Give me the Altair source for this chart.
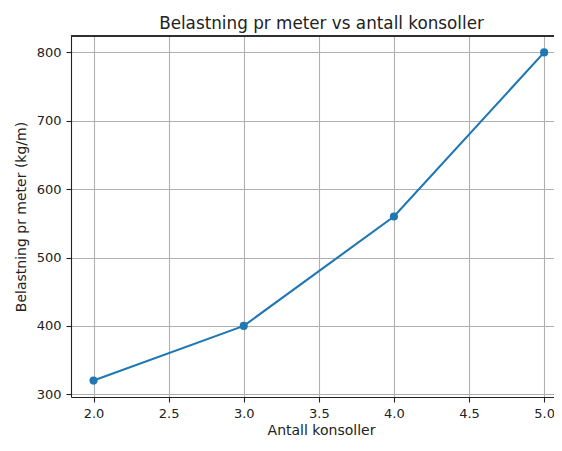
import altair as alt
import pandas as pd

antall = [2, 3, 4, 5]
belastning = [320, 400, 560, 800]
x_ticks = [2.0, 2.5, 3.0, 3.5, 4.0, 4.5, 5.0]
y_ticks = [300, 400, 500, 600, 700, 800]

df = pd.DataFrame({"antall": antall, "belastning": belastning})

FONT = "DejaVu Sans"
BLUE = "#1f77b4"
W, H = 483, 361
PX_PER_X = 150.2

x_bottom = alt.X(
    "antall:Q",
    scale=alt.Scale(domain=[1.85, 1.85 + W / PX_PER_X], nice=False, zero=False),
    axis=alt.Axis(
        values=x_ticks, format=".1f", title="Antall konsoller",
        titleBaseline="alphabetic", titleX=250, titleY=37, titleFontSize=14,
        titleFontWeight="normal", titleFont=FONT, titleColor="#222",
        labelFont=FONT, labelFontSize=13, labelColor="#222",
        labelPadding=5, tickSize=5, tickColor="#222", tickWidth=1.1,
        domainColor="#222", domainWidth=1.1,
        grid=True, gridColor="#b0b0b0", gridWidth=1.1,
        labelFlush=False,
    ),
)
y_left = alt.Y(
    "belastning:Q",
    scale=alt.Scale(domain=[296, 824], nice=False, zero=False),
    axis=alt.Axis(
        values=y_ticks, title="Belastning pr meter (kg/m)",
        titleBaseline="alphabetic", titleX=-46, titleFontSize=14,
        titleFontWeight="normal", titleFont=FONT, titleColor="#222",
        labelFont=FONT, labelFontSize=13, labelColor="#222",
        labelPadding=5, tickSize=5, tickColor="#222", tickWidth=1.1,
        domainColor="#222", domainWidth=1.1,
        grid=True, gridColor="#b0b0b0", gridWidth=1.1,
        labelFlush=False,
    ),
)

base = alt.Chart(df).encode(x=x_bottom, y=y_left)
line = base.mark_line(color=BLUE, strokeWidth=2.1)
points = base.mark_circle(color=BLUE, size=66, opacity=1)
top_spine = alt.Chart(df).mark_rule(color="#222", strokeWidth=1.1).encode(
    x=alt.value(0), x2=alt.value(W), y=alt.value(0)
)

chart = (
    alt.layer(line, points, top_spine)
    .properties(
        width=W, height=H,
        title=alt.TitleParams(
            "Belastning pr meter vs antall konsoller",
            font=FONT, fontSize=16.8, fontWeight="normal", color="#222",
            baseline="alphabetic", offset=6, dy=16, dx=9, anchor="middle",
        ),
        autosize=alt.AutoSizeParams(type="none"),
        padding={"left": 63, "top": 28, "right": 0, "bottom": 41},
    )
    .configure_view(stroke=None)
)

chart.save("out.html", embed_options={"renderer": "svg", "actions": False})
